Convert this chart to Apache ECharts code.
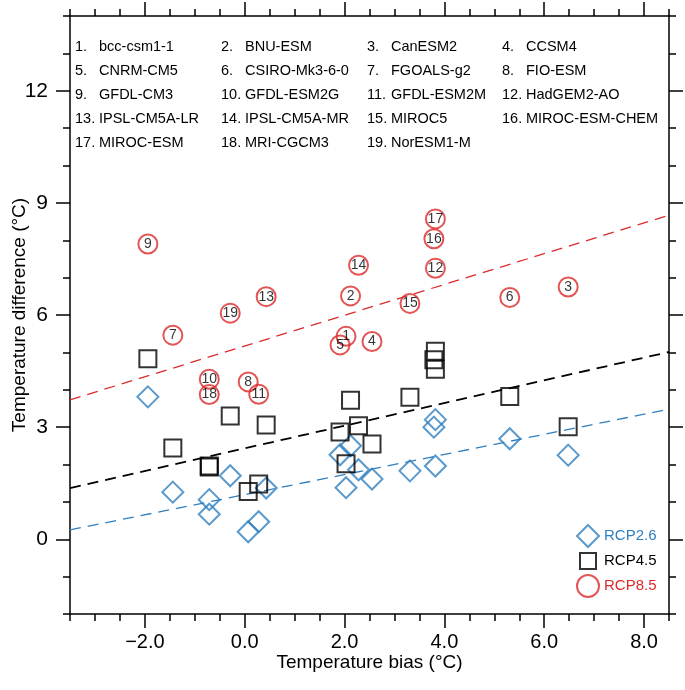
<!DOCTYPE html>
<html>
<head>
<meta charset="utf-8">
<script src="https://cdn.jsdelivr.net/npm/echarts@6/dist/echarts.min.js"></script>
<style>html,body{margin:0;padding:0;background:#fff;}#chart{width:685px;height:690px;}</style>
</head>
<body>
<div id="chart"></div>
<script>
// ---- data ----
const modelNames = ['bcc-csm1-1', 'BNU-ESM', 'CanESM2', 'CCSM4', 'CNRM-CM5', 'CSIRO-Mk3-6-0', 'FGOALS-g2', 'FIO-ESM', 'GFDL-CM3', 'GFDL-ESM2G', 'GFDL-ESM2M', 'HadGEM2-AO', 'IPSL-CM5A-LR', 'IPSL-CM5A-MR', 'MIROC5', 'MIROC-ESM-CHEM', 'MIROC-ESM', 'MRI-CGCM3', 'NorESM1-M'];
const tempBias = [2.03, 2.12, 6.48, 2.55, 1.91, 5.31, -1.44, 0.07, -1.94, -0.71, 0.28, 3.82, 0.43, 2.28, 3.31, 3.79, 3.82, -0.71, -0.29];
const diffRcp26 = [1.38, 2.50, 2.25, 1.61, 2.26, 2.69, 1.26, 0.20, 3.81, 1.06, 0.47, 1.96, 1.37, 1.86, 1.83, 3.00, 3.20, 0.67, 1.70];
const diffRcp45 = [2.02, 3.72, 3.01, 2.55, 2.87, 3.82, 2.44, 1.28, 4.83, 1.96, 1.48, 4.55, 3.06, 3.04, 3.80, 4.80, 5.03, 1.93, 3.30];
const diffRcp85 = [5.43, 6.51, 6.75, 5.29, 5.20, 6.47, 5.46, 4.21, 7.90, 4.28, 3.88, 7.25, 6.49, 7.33, 6.31, 8.04, 8.57, 3.87, 6.05];
const fitRcp26 = [[-3.5, 0.25], [8.5, 3.48]];
const fitRcp45 = [[-3.5, 1.37], [8.5, 5.01]];
const fitRcp85 = [[-3.5, 3.73], [8.5, 8.67]];
const xMajorTicks = [-2, 0, 2, 4, 6, 8];
const xMinorTicks = [-3.5, -3, -2.5, -1.5, -1, -0.5, 0.5, 1, 1.5, 2.5, 3, 3.5, 4.5, 5, 5.5, 6.5, 7, 7.5, 8.5];
const yMajorTicks = [0, 3, 6, 9, 12];
const yMinorTicks = [-2, -1, 1, 2, 4, 5, 7, 8, 10, 11, 13, 14];
const scenarioNames = ['RCP2.6', 'RCP4.5', 'RCP8.5'];

// ---- styles ----
const FONT = 'Liberation Sans, Arial, Helvetica, sans-serif';
const BLUE = '#2f7fbf';
const RED = '#dc2a2a';
const BLACK = '#000';
const X_MIN = -3.5, X_MAX = 8.5, Y_MIN = -2, Y_MAX = 14;

function pts(ys) { return tempBias.map((x, i) => [x, ys[i], i + 1]); }
function fmtX(v) { return (v < 0 ? '\u2212' : '') + Math.abs(v).toFixed(1); }

function xAx(pos, ticks, len, showLine, labels) {
  return {
    type: 'value', position: pos, min: X_MIN, max: X_MAX,
    axisLine: { show: showLine, onZero: false, lineStyle: { color: BLACK, width: 1.5 } },
    axisTick: { show: true, inside: false, length: len, customValues: ticks, lineStyle: { color: BLACK, width: 1.5 } },
    axisLabel: labels ? { show: true, customValues: xMajorTicks, formatter: fmtX, fontSize: 20, color: BLACK, fontFamily: FONT, margin: 18 } : { show: false },
    splitLine: { show: false }
  };
}
function yAx(pos, ticks, len, showLine, labels) {
  return {
    type: 'value', position: pos, min: Y_MIN, max: Y_MAX,
    axisLine: { show: showLine, onZero: false, lineStyle: { color: BLACK, width: 1.5 } },
    axisTick: { show: true, inside: false, length: len, customValues: ticks, lineStyle: { color: BLACK, width: 1.5 } },
    axisLabel: labels ? { show: true, customValues: yMajorTicks, fontSize: 21, color: BLACK, fontFamily: FONT, margin: 22 } : { show: false },
    splitLine: { show: false }
  };
}

const xAxes = [
  Object.assign(xAx('bottom', xMajorTicks, 14, true, true), {
    name: 'Temperature bias (\u00B0C)', nameLocation: 'middle', nameGap: 39, nameMoveOverlap: false,
    nameTextStyle: { fontSize: 19, color: BLACK, fontFamily: FONT }
  }),
  xAx('bottom', xMinorTicks, 7, false, false),
  xAx('top', xMajorTicks, 14, true, false),
  xAx('top', xMinorTicks, 7, false, false)
];
const yAxes = [
  Object.assign(yAx('left', yMajorTicks, 14, true, true), {
    name: 'Temperature difference (\u00B0C)', nameLocation: 'middle', nameGap: 41, nameRotate: 90, nameMoveOverlap: false,
    nameTextStyle: { fontSize: 19, color: BLACK, fontFamily: FONT }
  }),
  yAx('left', yMinorTicks, 7, false, false),
  yAx('right', yMajorTicks, 14, true, false),
  yAx('right', yMinorTicks, 7, false, false)
];

// model list text (graphic)
const colX = [75, 221, 367, 502];
const rowY0 = 47, rowDy = 24, nameOffset = 24;
const graphics = [];
modelNames.forEach((nm, i) => {
  const c = i % 4, r = Math.floor(i / 4);
  const y = rowY0 + r * rowDy;
  graphics.push({ type: 'text', left: colX[c], top: y - 8, style: { text: (i + 1) + '.', font: '14.5px ' + FONT, fill: BLACK } });
  graphics.push({ type: 'text', left: colX[c] + nameOffset, top: y - 8, style: { text: nm, font: '14.5px ' + FONT, fill: BLACK } });
});

function fitLine(data, color, width) {
  return {
    type: 'line', data: data, xAxisIndex: 0, yAxisIndex: 0, showSymbol: false, silent: true, z: 1,
    lineStyle: { color: color, width: width, type: [11, 7] }, animation: false
  };
}

const option = {
  animation: false,
  backgroundColor: '#fff',
  textStyle: { fontFamily: FONT },
  grid: { left: 70, right: 16, top: 16, bottom: 76, containLabel: false, outerBoundsMode: 'none' },
  xAxis: xAxes,
  yAxis: yAxes,
  legend: {
    orient: 'vertical', left: 571, top: 519, itemWidth: 22, itemHeight: 22, itemGap: 1,
    textStyle: { fontSize: 15, fontFamily: FONT },
    data: [
      { name: scenarioNames[0], icon: 'diamond', itemStyle: { color: 'rgba(0,0,0,0)', borderColor: BLUE, borderWidth: 2 }, textStyle: { color: BLUE } },
      { name: scenarioNames[1], icon: 'path://M0,0M22,22M3,3L19,3L19,19L3,19Z', itemStyle: { color: 'rgba(0,0,0,0)', borderColor: BLACK, borderWidth: 2 }, textStyle: { color: BLACK } },
      { name: scenarioNames[2], icon: 'circle', itemStyle: { color: 'rgba(0,0,0,0)', borderColor: RED, borderWidth: 2 }, textStyle: { color: RED } }
    ]
  },
  graphic: graphics,
  series: [
    fitLine(fitRcp26, BLUE, 1.3),
    fitLine(fitRcp45, BLACK, 1.8),
    fitLine(fitRcp85, RED, 1.3),
    {
      name: scenarioNames[0], type: 'scatter', data: pts(diffRcp26), symbol: 'diamond', symbolSize: 21, z: 3,
      itemStyle: { color: 'rgba(0,0,0,0)', borderColor: BLUE, borderWidth: 2 }
    },
    {
      name: scenarioNames[1], type: 'scatter', data: pts(diffRcp45), symbol: 'rect', symbolSize: 17, z: 4,
      itemStyle: { color: 'rgba(0,0,0,0)', borderColor: BLACK, borderWidth: 2 }
    },
    {
      name: scenarioNames[2], type: 'scatter', data: pts(diffRcp85), symbol: 'circle', symbolSize: 19, z: 5,
      itemStyle: { color: 'rgba(0,0,0,0)', borderColor: RED, borderWidth: 2 },
      label: { show: true, position: 'inside', formatter: p => String(p.value[2]), fontSize: 14, color: BLACK, fontFamily: FONT }
    }
  ]
};
const chart = echarts.init(document.getElementById('chart'), null, { renderer: 'canvas' });
chart.setOption(option);
</script>
</body>
</html>
